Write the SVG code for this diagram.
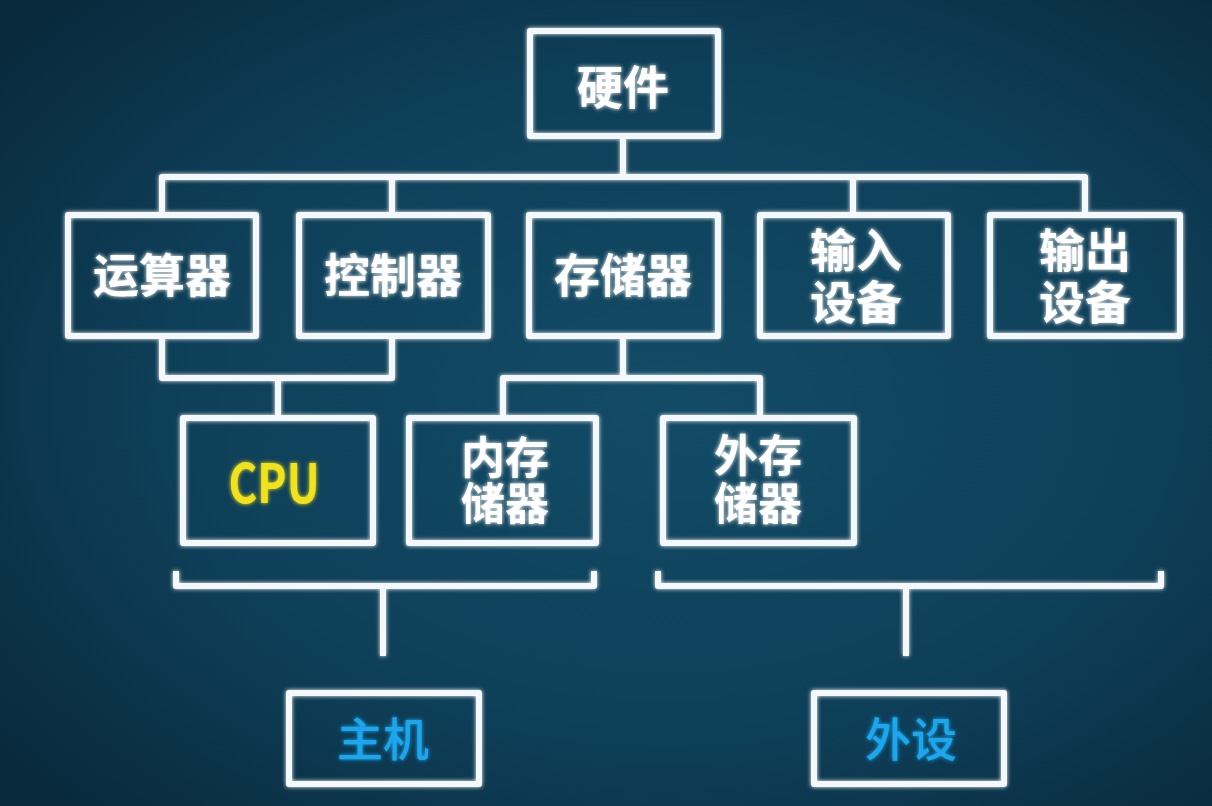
<svg xmlns="http://www.w3.org/2000/svg" width="1212" height="806" viewBox="0 0 1212 806">
<defs>
<radialGradient id="bg" cx="55%" cy="50%" r="70%">
<stop offset="0" stop-color="#124b66"/>
<stop offset="0.6" stop-color="#0e3f58"/>
<stop offset="1" stop-color="#092a3d"/>
</radialGradient>
<filter id="glow" x="-10%" y="-10%" width="120%" height="120%">
<feGaussianBlur in="SourceGraphic" stdDeviation="2" result="b"/>
<feMerge><feMergeNode in="b"/><feMergeNode in="SourceGraphic"/></feMerge>
</filter>
<style>
.box{fill:none;stroke:#f4f8fa;stroke-width:6;stroke-linejoin:round}
.ln{fill:none;stroke:#f4f8fa;stroke-width:6;stroke-linejoin:round;stroke-linecap:butt}
.t{font-family:"Noto Sans CJK SC","Noto Sans",sans-serif;font-weight:700;font-size:46px;fill:#ffffff;text-anchor:middle}
.t2{font-family:"Noto Sans CJK SC","Noto Sans",sans-serif;font-weight:700;font-size:44px;fill:#ffffff;text-anchor:middle}
.cpu{font-family:"Noto Sans CJK SC","Noto Sans",sans-serif;font-weight:700;font-size:54px;fill:#f2e21a;text-anchor:middle}
.blue{font-family:"Noto Sans CJK SC","Noto Sans",sans-serif;font-weight:500;font-size:46px;fill:#1fa6ee;text-anchor:middle}
</style>
</defs>
<rect width="1212" height="806" fill="url(#bg)"/>
<g id="connectors" filter="url(#glow)">
<path class="ln" d="M623 138 V177"/>
<path class="ln" d="M162 212 V177 H1085 V212"/>
<path class="ln" d="M392 177 V212"/>
<path class="ln" d="M853 177 V212"/>
<path class="ln" d="M162 338 V378 H392 V338"/>
<path class="ln" d="M278 378 V415"/>
<path class="ln" d="M623 338 V378"/>
<path class="ln" d="M503 415 V378 H760 V415"/>
<path class="ln" d="M176 571 V586 H594 V571"/>
<path class="ln" d="M383 586 V656"/>
<path class="ln" d="M658 571 V586 H1161 V571"/>
<path class="ln" d="M906 586 V656"/>
</g>
<g id="n-hardware" filter="url(#glow)"><rect class="box" x="530" y="31" width="188" height="105"/><text class="t" x="623" y="104">硬件</text></g>
<g id="n-alu" filter="url(#glow)"><rect class="box" x="68" y="215" width="188" height="121"/><text class="t" x="162" y="292">运算器</text></g>
<g id="n-control" filter="url(#glow)"><rect class="box" x="299" y="215" width="189" height="121"/><text class="t" x="393" y="292">控制器</text></g>
<g id="n-memory" filter="url(#glow)"><rect class="box" x="529" y="215" width="189" height="121"/><text class="t" x="623" y="292">存储器</text></g>
<g id="n-input" filter="url(#glow)"><rect class="box" x="760" y="215" width="188" height="121"/><text class="t"><tspan x="856" y="267">输入</tspan><tspan x="856" y="319">设备</tspan></text></g>
<g id="n-output" filter="url(#glow)"><rect class="box" x="990" y="215" width="190" height="121"/><text class="t"><tspan x="1085" y="267">输出</tspan><tspan x="1085" y="319">设备</tspan></text></g>
<g id="n-cpu" filter="url(#glow)"><rect class="box" x="183" y="418" width="190" height="125"/><text class="cpu" x="274" y="503" textLength="91" lengthAdjust="spacingAndGlyphs">CPU</text></g>
<g id="n-mainmem" filter="url(#glow)"><rect class="box" x="409" y="418" width="187" height="125"/><text class="t2"><tspan x="505" y="474">内存</tspan><tspan x="505" y="520">储器</tspan></text></g>
<g id="n-extmem" filter="url(#glow)"><rect class="box" x="663" y="418" width="191" height="125"/><text class="t2"><tspan x="758" y="472">外存</tspan><tspan x="758" y="520">储器</tspan></text></g>
<g id="n-host" filter="url(#glow)"><rect class="box" x="289" y="693" width="190" height="91"/><text class="blue" x="383" y="756">主机</text></g>
<g id="n-periph" filter="url(#glow)"><rect class="box" x="814" y="693" width="190" height="91"/><text class="blue" x="911" y="756">外设</text></g>
</svg>
